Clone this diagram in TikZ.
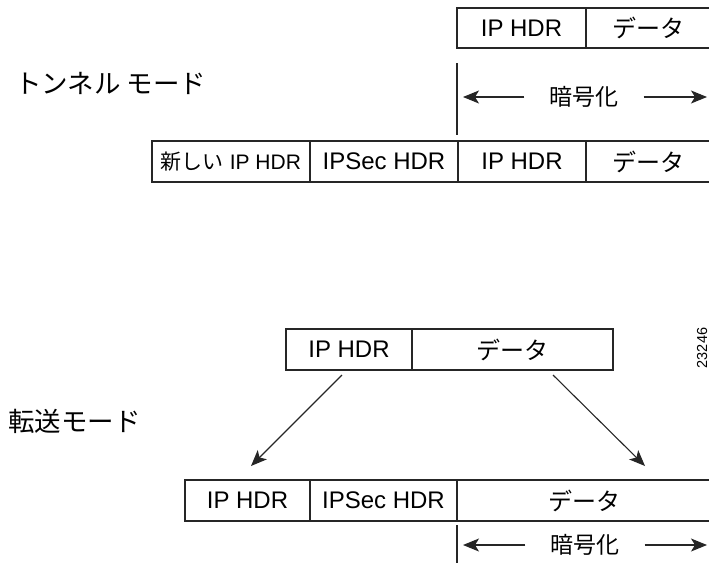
\documentclass[tikz,border=0pt]{standalone}
\usepackage{fontspec}
\setmainfont{Liberation Sans}
\newfontfamily\jp{Noto Sans CJK JP}
\usetikzlibrary{arrows.meta,positioning}

\begin{document}
\begin{tikzpicture}[x=1pt,y=-1pt,
  cell/.style={draw=black!85,line width=1.1pt,rectangle,inner sep=0pt,outer sep=0pt,
    minimum height=40pt,font=\fontsize{24}{28}\selectfont},
  modelabel/.style={anchor=west,inner sep=0pt,font=\jp\fontsize{26.5}{30}\selectfont},
  enc/.style={inner xsep=25pt,inner ysep=0pt,font=\jp\fontsize{23}{27}\selectfont},
  arr/.style={draw=black!85,line width=1.1pt,-{Stealth[length=16pt,width=13pt,inset=4pt]}},
  tick/.style={draw=black!85,line width=1.1pt}]

\useasboundingbox (0,0) rectangle (709,563);

% tunnel mode
\node[modelabel] (tunnel) at (15,83) {トンネル モード};

\node[cell,anchor=west,minimum width=129] (tip) at (457,28) {IP HDR};
\node[cell,right=0pt of tip,minimum width=125] (tdata) {\jp データ};

\node[cell,anchor=west,minimum width=158,minimum height=41,font=\fontsize{21}{25}\selectfont] (tnew) at (152,161.5) {{\jp 新しい} IP HDR};
\node[cell,right=0pt of tnew,minimum width=148,minimum height=41] (tsec) {IPSec HDR};
\node[cell,right=0pt of tsec,minimum width=128,minimum height=41] (thdr) {IP HDR};
\node[cell,right=0pt of thdr,minimum width=125,minimum height=41] (tdat) {\jp データ};

\coordinate (ta) at (457,63);
\coordinate (tb) at (457,135);
\draw[tick] (ta) -- (tb);

\node[enc] (tenc) at (584,97) {暗号化};
\coordinate (tl) at (463,97);
\coordinate (tr) at (707,97);
\draw[arr] (tenc.west) -- (tl);
\draw[arr] (tenc.east) -- (tr);

% transport mode
\node[modelabel] (transport) at (8,421) {転送モード};

\node[cell,anchor=west,minimum width=126,minimum height=41] (hdr) at (286,349.5) {IP HDR};
\node[cell,right=0pt of hdr,minimum width=201,minimum height=41] (data) {\jp データ};

\node[cell,anchor=west,minimum width=125,minimum height=41] (bhdr) at (185,500.5) {IP HDR};
\node[cell,right=0pt of bhdr,minimum width=147,minimum height=41] (bsec) {IPSec HDR};
\node[cell,right=0pt of bsec,minimum width=254,minimum height=41] (bdat) {\jp データ};

\coordinate (h1) at (342,375);
\coordinate (h2) at (251,466);
\coordinate (d1) at (553,375);
\coordinate (d2) at (645,466);
\draw[arr] (h1) -- (h2);
\draw[arr] (d1) -- (d2);

\coordinate (ba) at (457,525);
\coordinate (bb) at (457,563);
\draw[tick] (ba) -- (bb);

\node[enc] (benc) at (585,545) {暗号化};
\coordinate (bl) at (463,545);
\coordinate (br) at (707,545);
\draw[arr] (benc.west) -- (bl);
\draw[arr] (benc.east) -- (br);

\node[rotate=90,inner sep=0pt,font=\fontsize{14.5}{15}\selectfont] (figno) at (702,348) {23246};

\end{tikzpicture}
\end{document}
